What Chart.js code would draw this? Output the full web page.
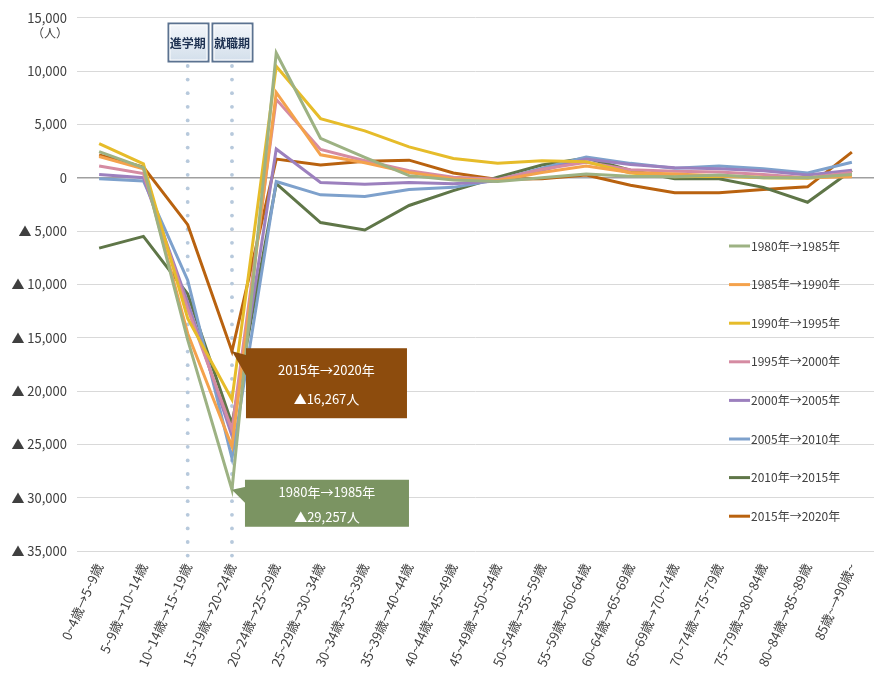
<!DOCTYPE html>
<html lang="ja">
<head>
<meta charset="utf-8">
<title>年齢階級別純移動数</title>
<script src="https://cdn.jsdelivr.net/npm/chart.js@4.4.1/dist/chart.umd.min.js"></script>
<style>
body { margin: 0; background: #fff; }
</style>
</head>
<body>
<canvas id="canvasIdo" width="874" height="695"></canvas>
<script>
// 年齢階級（移動前→移動後）
var ageLabels = ['0~4歳→5~9歳', '5~9歳→10~14歳', '10~14歳→15~19歳', '15~19歳→20~24歳',
    '20~24歳→25~29歳', '25~29歳→30~34歳', '30~34歳→35~39歳', '35~39歳→40~44歳',
    '40~44歳→45~49歳', '45~49歳→50~54歳', '50~54歳→55~59歳', '55~59歳→60~64歳',
    '60~64歳→65~69歳', '65~69歳→70~74歳', '70~74歳→75~79歳', '75~79歳→80~84歳',
    '80~84歳→85~89歳', '85歳~→90歳~'];

var periodNames = ['1980年→1985年', '1985年→1990年', '1990年→1995年', '1995年→2000年',
    '2000年→2005年', '2005年→2010年', '2010年→2015年', '2015年→2020年'];

// 純移動数（人）
var ido1980 = [2450, 950, -15200, -29257, 11700, 3700, 1900, 200, -200, -350, 0, 350, 150, 100, 250, 0, 0, 300];
var ido1985 = [2000, 850, -14600, -25200, 8000, 2150, 1400, 500, -100, -250, 500, 1100, 500, 350, 200, 50, 0, 100];
var ido1990 = [3200, 1300, -13200, -20800, 10450, 5550, 4400, 2900, 1800, 1350, 1600, 1500, 450, 100, 150, 0, -50, 250];
var ido1995 = [1100, 400, -12300, -23600, 7350, 2650, 1600, 650, 50, -150, 800, 1450, 750, 600, 550, 300, 0, 500];
var ido2000 = [300, 0, -11700, -24200, 2700, -450, -600, -450, -550, -300, 700, 1750, 1250, 950, 850, 650, 250, 700];
var ido2005 = [-100, -300, -9600, -26300, -350, -1600, -1750, -1100, -900, -200, 900, 1950, 1350, 900, 1100, 850, 450, 1450];
var ido2010 = [-6600, -5500, -10900, -23100, -550, -4200, -4900, -2600, -1200, 50, 1200, 1850, 700, -100, -100, -900, -2300, 700];
var ido2015 = [2150, 1000, -4400, -16267, 1750, 1200, 1550, 1650, 450, -150, -100, 250, -700, -1400, -1400, -1100, -850, 2400];

var lineColors = ['#9db283', '#f4a24c', '#e6bc2a', '#d58ba2', '#9c80be', '#7ea1cc', '#5f7648', '#b9620f'];

// 目盛り
var yMin = -35000;
var yMax = 15000;
var yStep = 5000;

// 進学期・就職期の位置
var stageNames = ['進学期', '就職期'];
var stageIndex = [2, 3];

// 吹き出し（系列番号, 年齢階級番号）
var callouts = [
    { series: 7, index: 3, fill: '#8d4c0d' },
    { series: 0, index: 3, fill: '#7b9462' }
];

var FONT = "'Noto Sans CJK JP', 'Noto Sans', sans-serif";

function Kanma(n) {
    return String(n).replace(/\B(?=(\d{3})+(?!\d))/g, ',');
}

function NhanTruc(v) {
    if (v < 0) return '▲ ' + Kanma(-v);
    return Kanma(v);
}

// 点線と見出しボックス
function VeKyHan(chart) {
    var ctx = chart.ctx;
    var x = chart.scales.x;
    var area = chart.chartArea;
    ctx.save();
    ctx.fillStyle = '#b7c9dc';
    for (var i in stageIndex) {
        var px = x.getPixelForValue(stageIndex[i]);
        for (var y = 66; y < area.bottom + 10; y += 13.6) {
            ctx.beginPath();
            ctx.arc(px, y, 1.9, 0, Math.PI * 2);
            ctx.fill();
        }
    }
    ctx.restore();
}

function VeHop(chart) {
    var ctx = chart.ctx;
    var x = chart.scales.x;
    ctx.save();
    for (var i in stageIndex) {
        var px = x.getPixelForValue(stageIndex[i]);
        var bx = Math.round(px - 20) + 0.5, by = 23.5, bw = 40, bh = 38;
        ctx.fillStyle = '#5b7290';
        ctx.fillRect(bx - 1, by - 1, bw + 2, bh + 2);
        var g = ctx.createLinearGradient(0, by, 0, by + bh);
        g.addColorStop(0, '#f3f6fa');
        g.addColorStop(1, '#d3dfeb');
        ctx.fillStyle = g;
        ctx.fillRect(bx + 1, by + 1, bw - 2, bh - 2);
        ctx.strokeStyle = '#ffffff';
        ctx.lineWidth = 1;
        ctx.strokeRect(bx + 1.5, by + 1.5, bw - 3, bh - 3);
        ctx.fillStyle = '#1f3252';
        ctx.font = 'bold 12px ' + FONT;
        ctx.textAlign = 'center';
        ctx.textBaseline = 'middle';
        ctx.fillText(stageNames[i], px, by + bh / 2 + 1);
    }
    ctx.restore();
}

// 吹き出し
function VeChuThich(chart) {
    var ctx = chart.ctx;
    var x = chart.scales.x;
    var y = chart.scales.y;
    ctx.save();
    for (var i in callouts) {
        var c = callouts[i];
        var v = chart.data.datasets[c.series].data[c.index];
        var px = x.getPixelForValue(c.index);
        var py = y.getPixelForValue(v);
        var bx, by, bw, bh, t1, t2, p1, p2;
        if (i == 0) {
            bx = px + 14; by = py - 3; bw = 161; bh = 70;
            t1 = by + 22; t2 = by + 51; p1 = py + 4; p2 = py + 26;
        }
        else {
            bx = px + 13; by = py - 10; bw = 164; bh = 47;
            t1 = by + 12; t2 = by + 37; p1 = py - 3; p2 = py + 14;
        }
        ctx.fillStyle = c.fill;
        ctx.fillRect(bx, by, bw, bh);
        ctx.beginPath();
        ctx.moveTo(px, py);
        ctx.lineTo(bx + 1, p1);
        ctx.lineTo(bx + 1, p2);
        ctx.closePath();
        ctx.fill();
        ctx.fillStyle = '#ffffff';
        ctx.font = '13px ' + FONT;
        ctx.textAlign = 'center';
        ctx.textBaseline = 'middle';
        ctx.fillText(chart.data.datasets[c.series].label, bx + bw / 2, t1);
        ctx.fillText('▲' + Kanma(Math.abs(v)) + '人', bx + bw / 2, t2);
    }
    ctx.restore();
}

// 凡例（グラフ内右側）
function VeChuGiai(chart) {
    var ctx = chart.ctx;
    ctx.save();
    ctx.font = '12px ' + FONT;
    ctx.textAlign = 'left';
    ctx.textBaseline = 'middle';
    var ds = chart.data.datasets;
    for (var i = 0; i < ds.length; i++) {
        var ly = 246 + i * 38.6;
        ctx.strokeStyle = ds[i].borderColor;
        ctx.lineWidth = 3;
        ctx.beginPath();
        ctx.moveTo(729, ly);
        ctx.lineTo(750, ly);
        ctx.stroke();
        ctx.fillStyle = '#404040';
        ctx.fillText(ds[i].label, 751, ly);
    }
    // 単位
    ctx.textAlign = 'right';
    ctx.font = '12px ' + FONT;
    ctx.fillStyle = '#404040';
    ctx.fillText('（人）', 68, 33);
    ctx.restore();
}

var trangTri = {
    id: 'trangTri',
    beforeDatasetsDraw: function (chart) { VeKyHan(chart); },
    afterDatasetsDraw: function (chart) {
        VeHop(chart);
        VeChuThich(chart);
        VeChuGiai(chart);
    }
};

function VeDoThi() {
    var allData = [ido1980, ido1985, ido1990, ido1995, ido2000, ido2005, ido2010, ido2015];
    var datasets = [];
    for (var i = 0; i < allData.length; i++) {
        datasets.push({
            label: periodNames[i],
            data: allData[i],
            borderColor: lineColors[i],
            backgroundColor: lineColors[i],
            borderWidth: 3,
            pointRadius: 0,
            tension: 0,
            fill: false
        });
    }

    Chart.defaults.font.family = FONT;
    Chart.defaults.color = '#404040';

    new Chart('canvasIdo', {
        type: 'line',
        data: { labels: ageLabels, datasets: datasets },
        plugins: [trangTri],
        options: {
            responsive: false,
            animation: false,
            layout: { padding: { top: 16, right: 0, left: 0, bottom: 0 } },
            plugins: {
                legend: { display: false },
                tooltip: { enabled: false }
            },
            scales: {
                x: {
                    offset: true,
                    grid: { display: false },
                    border: { display: false },
                    ticks: {
                        autoSkip: false,
                        minRotation: 66,
                        maxRotation: 66,
                        padding: 2,
                        font: { size: 13 },
                        color: '#404040'
                    },
                    afterFit: function (s) { s.height = 144; }
                },
                y: {
                    min: yMin,
                    max: yMax,
                    border: { display: false },
                    grid: {
                        drawTicks: false,
                        color: function (c) { return c.tick.value === 0 ? '#a0a0a0' : '#d9d9d9'; },
                        lineWidth: function (c) { return c.tick.value === 0 ? 1.5 : 1; }
                    },
                    ticks: {
                        stepSize: yStep,
                        padding: 10,
                        font: { size: 13 },
                        color: '#404040',
                        callback: function (v) { return NhanTruc(v); }
                    },
                    afterFit: function (s) { s.width = 77; }
                }
            }
        }
    });
}

VeDoThi();
</script>
</body>
</html>
